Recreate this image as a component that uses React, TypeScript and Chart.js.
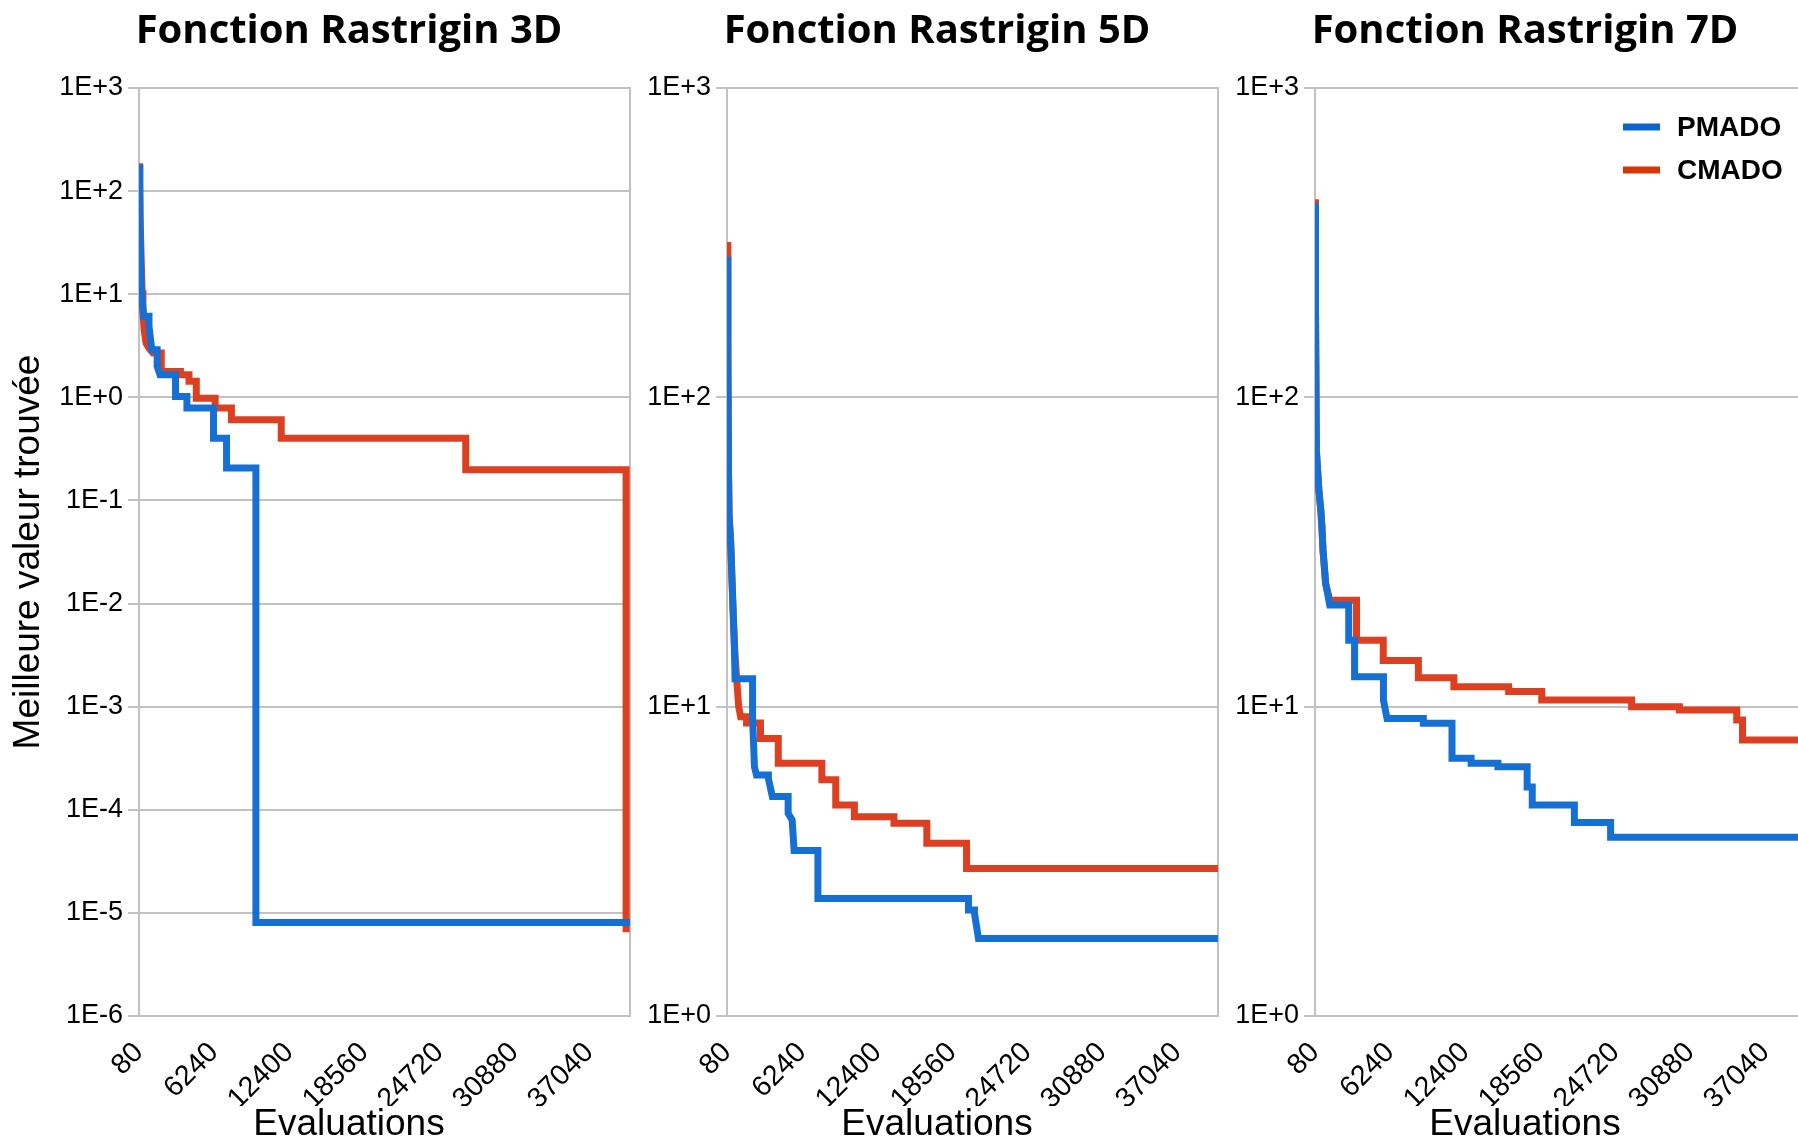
import React, { useEffect, useRef } from 'react';
import { Chart, registerables } from 'chart.js';

Chart.register(...registerables);

// ---------- data ----------
const seriesLabels = ['PMADO', 'CMADO'];
const panelTitles = ['Fonction Rastrigin 3D', 'Fonction Rastrigin 5D', 'Fonction Rastrigin 7D'];
const xAxisTitle = 'Evaluations';
const yAxisTitle = 'Meilleure valeur trouvée';

const xTickValues = [80, 6240, 12400, 18560, 24720, 30880, 37040];
const xMin = 80;
const xMax = 40400;

const yTicks3D = [1e-6, 1e-5, 1e-4, 1e-3, 1e-2, 1e-1, 1, 10, 100, 1000];
const yTicks5D = [1, 10, 100, 1000];
const yTicks7D = [1, 10, 100, 1000];

// Rastrigin 3D
const evalsPMADO3D = [80, 150, 230, 330, 470, 900, 1130, 1570, 1800, 3080, 4015, 6200, 7270, 9680, 40400];
const bestPMADO3D = [180, 60, 14.9, 9.0, 6.1, 4.9, 2.89, 2.0, 1.66, 1.02, 0.79, 0.40, 0.206, 8.05e-6, 8.05e-6];
const evalsCMADO3D = [80, 130, 180, 260, 330, 400, 500, 660, 900, 1230, 1905, 3480, 4185, 4785, 6330, 7670, 11760, 26910, 40080];
const bestCMADO3D = [186, 120, 50, 21.5, 11, 6.6, 4.5, 3.36, 3.0, 2.69, 1.78, 1.66, 1.43, 0.98, 0.79, 0.607, 0.40, 0.199, 6.5e-6];

// Rastrigin 5D
const evalsPMADO5D = [80, 150, 200, 250, 385, 550, 690, 740, 2180, 2335, 2500, 3480, 3800, 5100, 5430, 5590, 7545, 19910, 20400, 20730, 40400];
const bestPMADO5D = [285, 140, 58, 41, 33.8, 22.1, 15.3, 12.3, 9.27, 6.39, 6.01, 5.86, 5.12, 4.52, 4.30, 3.43, 2.40, 2.20, 2.15, 1.78, 1.78];
const evalsCMADO5D = [80, 150, 200, 250, 385, 550, 715, 880, 1040, 1200, 1685, 2830, 4290, 7870, 9010, 10540, 13790, 16490, 19750, 40400];
const bestCMADO5D = [318, 150, 60, 42, 33.8, 22.1, 15.3, 12.2, 10, 9.27, 8.85, 7.89, 6.56, 5.80, 4.81, 4.41, 4.20, 3.62, 3.0, 3.0];

// Rastrigin 7D
const evalsPMADO7D = [80, 120, 190, 400, 560, 650, 740, 955, 1290, 2850, 3330, 5700, 5995, 8975, 11330, 12900, 15100, 17500, 17920, 21380, 24355, 40400];
const bestPMADO7D = [424, 195, 67, 50, 43, 38, 32, 25, 21.3, 16.4, 12.5, 10.5, 9.16, 8.84, 6.81, 6.56, 6.39, 5.5, 4.81, 4.22, 3.78, 3.78];
const evalsCMADO7D = [80, 120, 190, 400, 560, 650, 740, 955, 1290, 3490, 5685, 8570, 11485, 15980, 18700, 26080, 30000, 34710, 35185, 40400];
const bestCMADO7D = [437, 200, 68, 50, 43, 38, 32, 25, 22.1, 16.4, 14.1, 12.4, 11.6, 11.2, 10.5, 9.99, 9.75, 9.05, 7.80, 7.80];

// ---------- styles ----------
const BLUE = '#1670d4';
const RED = '#dd4020';
const GRID = '#c2c2c2';
const CANVAS_W = 698;
const CANVAS_H = 1150;
const PANEL_STEP = 588;
// consecutive records closer than this are joined directly (continuous descent); others step
const CONTINUOUS_GAP = 400;

// Build line points: a hold-then-drop step between distant records, a direct join between close ones
const toStepPoints = (xs: number[], ys: number[]) => {
  const pts: { x: number; y: number }[] = [{ x: xs[0], y: ys[0] }];
  for (let i = 1; i < xs.length; i++) {
    if (xs[i] - xs[i - 1] > CONTINUOUS_GAP) pts.push({ x: xs[i], y: ys[i - 1] });
    pts.push({ x: xs[i], y: ys[i] });
  }
  return pts;
};

const formatE = (v: number) => {
  const e = Math.round(Math.log10(v));
  return '1E' + (e >= 0 ? '+' : '-') + Math.abs(e);
};

const insideLegend = {
  id: 'insideLegend',
  afterDatasetsDraw(chart: any, _args: any, opts: any) {
    if (!opts || !opts.display) return;
    const { ctx, chartArea } = chart;
    chart.data.datasets.forEach((ds: any, i: number) => {
      const x = chartArea.left + opts.left;
      const y = chartArea.top + opts.top + i * opts.spacing;
      ctx.save();
      ctx.strokeStyle = ds.legendColor || ds.borderColor;
      ctx.lineWidth = opts.lineWidth;
      ctx.beginPath();
      ctx.moveTo(x, y);
      ctx.lineTo(x + opts.lineLength, y);
      ctx.stroke();
      ctx.fillStyle = '#000';
      ctx.font = 'bold 28px "Liberation Sans", Arial, sans-serif';
      ctx.textBaseline = 'middle';
      ctx.textAlign = 'left';
      ctx.fillText(ds.label, x + opts.textGap, y + 1);
      ctx.restore();
    });
  },
};

type PanelProps = {
  index: number;
  title: string;
  showYTitle: boolean;
  yTicks: number[];
  pmado: { x: number; y: number }[];
  cmado: { x: number; y: number }[];
  showLegend: boolean;
};

function Panel({ index, title, showYTitle, yTicks, pmado, cmado, showLegend }: PanelProps) {
  const ref = useRef<HTMLCanvasElement | null>(null);

  useEffect(() => {
    if (!ref.current) return;
    const tickFont = { family: '"Liberation Sans", Arial, sans-serif', size: 27 };
    const chart = new Chart(ref.current, {
      type: 'line',
      data: {
        datasets: [
          {
            label: seriesLabels[0],
            data: pmado,
            borderColor: BLUE,
            backgroundColor: BLUE,
            legendColor: '#0a66cc',
            borderWidth: 7,
            pointRadius: 0,
            fill: false,
            xAxisID: 'x',
            yAxisID: 'y',
          } as any,
          {
            label: seriesLabels[1],
            data: cmado,
            borderColor: RED,
            backgroundColor: RED,
            legendColor: '#d63506',
            borderWidth: 7,
            pointRadius: 0,
            fill: false,
            xAxisID: 'x',
            yAxisID: 'y',
          } as any,
        ],
      },
      options: {
        animation: false,
        responsive: false,
        devicePixelRatio: 1,
        layout: { padding: 0 },
        events: [],
        plugins: {
          legend: { display: false },
          tooltip: { enabled: false },
          title: {
            display: true,
            text: title,
            color: '#000',
            font: { family: '"Open Sans", sans-serif', size: 40, weight: 'bold', lineHeight: 1.2 },
            padding: { top: 8, bottom: 32 },
          },
          subtitle: {
            display: true,
            position: 'bottom',
            text: xAxisTitle,
            color: '#000',
            font: { family: '"Liberation Sans", Arial, sans-serif', size: 37, lineHeight: 1.0 },
            padding: { top: 0, bottom: 7 },
          },
          insideLegend: {
            display: showLegend,
            left: 308,
            top: 39,
            spacing: 43,
            lineLength: 37,
            lineWidth: 7,
            textGap: 54,
          },
        } as any,
        scales: {
          x: {
            type: 'linear',
            min: xMin,
            max: xMax,
            afterBuildTicks: (s: any) => {
              s.ticks = xTickValues.map((v) => ({ value: v }));
            },
            afterFit: (s: any) => {
              s.height = 90;
            },
            grid: { display: false, drawTicks: false },
            border: { display: false },
            ticks: {
              autoSkip: false,
              maxRotation: 45,
              minRotation: 45,
              padding: 20,
              color: '#000',
              font: { family: '"Liberation Sans", Arial, sans-serif', size: 28.5, lineHeight: 1.2 },
              callback: (v: any) => String(v),
            },
          },
          y: {
            type: 'logarithmic',
            position: 'left',
            min: yTicks[0],
            max: yTicks[yTicks.length - 1],
            afterBuildTicks: (s: any) => {
              s.ticks = yTicks.map((v) => ({ value: v }));
            },
            afterFit: (s: any) => {
              s.width = 139;
            },
            grid: { color: GRID, lineWidth: 2, drawTicks: true, tickLength: 11 },
            border: { display: true, color: GRID, width: 2 },
            ticks: {
              padding: 5,
              color: '#000',
              font: tickFont,
              autoSkip: false,
              callback: (v: any) => formatE(Number(v)),
            },
            title: {
              display: showYTitle,
              text: yAxisTitle,
              color: '#000',
              font: { family: '"Liberation Sans", Arial, sans-serif', size: 37, lineHeight: 1.2 },
              padding: { top: 7, bottom: 0 },
            },
          },
          y2: {
            type: 'linear',
            position: 'right',
            display: true,
            afterFit: (s: any) => {
              s.width = 68;
            },
            grid: { display: false, drawTicks: false },
            ticks: { display: false },
            border: { display: true, color: GRID, width: 2 },
          },
        } as any,
      },
      plugins: [insideLegend as any],
    });
    return () => chart.destroy();
  }, []);

  return (
    <canvas
      ref={ref}
      width={CANVAS_W}
      height={CANVAS_H}
      style={{
        position: 'absolute',
        left: index * PANEL_STEP,
        top: 0,
        width: CANVAS_W,
        height: CANVAS_H,
      }}
    />
  );
}

export default function App() {
  return (
    <div
      style={{
        position: 'fixed',
        left: 0,
        top: 0,
        width: 1798,
        height: 1141,
        overflow: 'hidden',
        background: '#fff',
      }}
    >
      <Panel
        index={0}
        title={panelTitles[0]}
        showYTitle={true}
        yTicks={yTicks3D}
        pmado={toStepPoints(evalsPMADO3D, bestPMADO3D)}
        cmado={toStepPoints(evalsCMADO3D, bestCMADO3D)}
        showLegend={false}
      />
      <Panel
        index={1}
        title={panelTitles[1]}
        showYTitle={false}
        yTicks={yTicks5D}
        pmado={toStepPoints(evalsPMADO5D, bestPMADO5D)}
        cmado={toStepPoints(evalsCMADO5D, bestCMADO5D)}
        showLegend={false}
      />
      <Panel
        index={2}
        title={panelTitles[2]}
        showYTitle={false}
        yTicks={yTicks7D}
        pmado={toStepPoints(evalsPMADO7D, bestPMADO7D)}
        cmado={toStepPoints(evalsCMADO7D, bestCMADO7D)}
        showLegend={true}
      />
    </div>
  );
}
